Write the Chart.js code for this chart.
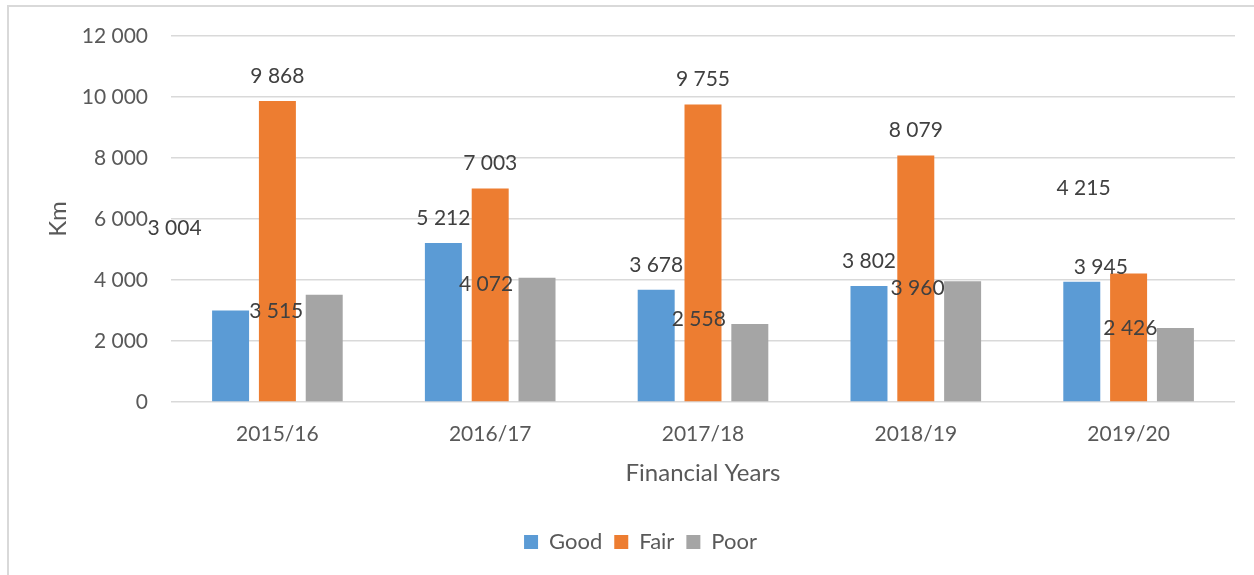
<!DOCTYPE html>
<html>
<head>
<meta charset="utf-8">
<script src="https://cdn.jsdelivr.net/npm/chart.js@4/dist/chart.umd.min.js"></script>
<style>
    html, body { margin: 0; padding: 0; background: #fff; overflow: hidden; }
    #wrap { position: relative; width: 1254px; height: 575px; }
    /* frame of the chart box, only top and left edge fall inside the page */
    #frame {
        position: absolute; left: 7px; top: 5px; width: 1300px; height: 620px;
        border-left: 2px solid #d9d9d9; border-top: 2px solid #d9d9d9;
        pointer-events: none;
    }
</style>
</head>
<body>
<div id="wrap">
    <canvas id="roadChart" width="1254" height="575"></canvas>
    <div id="frame"></div>
</div>
<script>
// road condition per financial year (km)
var years = ['2015/16', '2016/17', '2017/18', '2018/19', '2019/20'];
var good = [3004, 5212, 3678, 3802, 3945];
var fair = [9868, 7003, 9755, 8079, 4215];
var poor = [3515, 4072, 2558, 3960, 2426];
var yTicks = [0, 2000, 4000, 6000, 8000, 10000, 12000];

var FONT = 'Lato, "Open Sans", sans-serif';

// "12000" -> "12 000"
function spaced(v) {
    return String(Math.round(v)).replace(/\B(?=(\d{3})+(?!\d))/g, ' ');
}

// value labels sit above each bar, some of them were dragged by hand
// nudge = [dx, dy] in px per dataset / per year
var labelNudge = [
    [[-56, -57], [0, 0], [0, 0], [0, 0], [19, 11]],
    [[0, 0], [0, 0], [0, 0], [0, 0], [-45, -60]],
    [[-48, 41], [-51, 31], [-51, 20], [-45, 32], [-45, 25]]
];

var valueLabels = {
    id: 'valueLabels',
    afterDatasetsDraw: function (chart) {
        var ctx = chart.ctx;
        ctx.save();
        ctx.font = '21px ' + FONT;
        ctx.fillStyle = '#404040';
        ctx.textAlign = 'center';
        ctx.textBaseline = 'middle';
        chart.data.datasets.forEach(function (ds, di) {
            chart.getDatasetMeta(di).data.forEach(function (bar, i) {
                var n = labelNudge[di][i];
                ctx.fillText(spaced(ds.data[i]), bar.x + n[0], bar.y - 25 + n[1]);
            });
        });
        ctx.restore();
    }
};

// legend is centred a bit right of the plot
var legendShift = {
    id: 'legendShift',
    afterLayout: function (chart) {
        chart.legend.left += 23;
        chart.legend.right += 23;
    }
};

var ctx = document.getElementById('roadChart').getContext('2d');
var roadChart = new Chart(ctx, {
    type: 'bar',
    data: {
        labels: years,
        datasets: [
            { label: 'Good', data: good, backgroundColor: '#5b9bd5' },
            { label: 'Fair', data: fair, backgroundColor: '#ed7d31' },
            { label: 'Poor', data: poor, backgroundColor: '#a5a5a5' }
        ]
    },
    options: {
        responsive: false,
        animation: false,
        categoryPercentage: 0.66,
        barPercentage: 0.79,
        layout: { padding: { left: 0, right: 19, top: 36, bottom: 12 } },
        plugins: {
            legend: {
                position: 'bottom',
                labels: {
                    boxWidth: 14,
                    boxHeight: 14,
                    padding: 12,
                    color: '#595959',
                    font: { family: FONT, size: 22 }
                }
            },
            tooltip: { enabled: false }
        },
        scales: {
            x: {
                grid: { display: false, drawTicks: false },
                border: { display: false },
                ticks: { color: '#595959', padding: 20, font: { family: FONT, size: 21 } },
                title: {
                    display: true,
                    text: 'Financial Years',
                    color: '#595959',
                    font: { family: FONT, size: 24 },
                    padding: { top: 0, bottom: 31 }
                },
                afterFit: function (scale) { scale.height = 117; }
            },
            y: {
                min: 0,
                max: 12000,
                afterBuildTicks: function (scale) {
                    scale.ticks = yTicks.map(function (v) { return { value: v }; });
                },
                grid: { color: '#d9d9d9', lineWidth: 1.5, drawTicks: false },
                border: { display: false },
                ticks: {
                    color: '#595959',
                    padding: 23,
                    font: { family: FONT, size: 21 },
                    callback: function (v) { return spaced(v); }
                },
                title: {
                    display: true,
                    text: 'Km',
                    color: '#595959',
                    font: { family: FONT, size: 24 },
                    padding: { top: 44, bottom: 0 }
                },
                afterFit: function (scale) { scale.width = 171; }
            }
        }
    },
    plugins: [valueLabels, legendShift]
});
</script>
</body>
</html>
